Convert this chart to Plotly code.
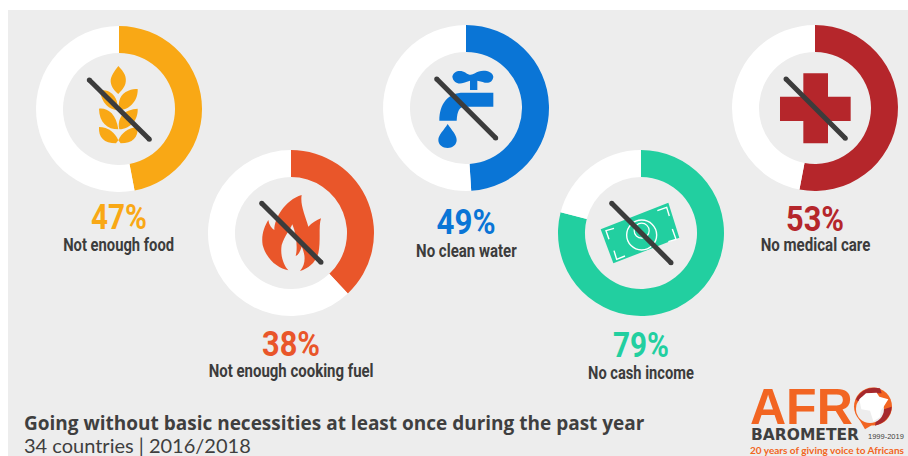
import json
import re
import plotly.graph_objects as go

W, H = 908, 456

# ---- data ----
categories = ["Not enough food", "Not enough cooking fuel", "No clean water", "No cash income", "No medical care"]
percent = [47, 38, 49, 79, 53]
colors = ["#F9A815", "#E9562A", "#0A75D6", "#22CFA0", "#B5262B"]
centers_x = [119, 291, 466, 641, 815]
centers_y = [109, 233, 108, 233, 108]
pct_y = [217, 344, 222, 345, 219]
lab_y = [244, 370, 250, 372, 245]
pct_widths = [56, 58, 59, 56, 58]
label_widths = [111, 165, 101, 106, 110]
OUTER_R = 83
HOLE = 0.675
GREY = "#EDEDED"
DARK = "#3C3C3C"


def fx(px):
    return px / W


def fy(py):
    return 1 - py / H


def pth(ox, oy, s, scale=3.0):
    """Turn a path written in zoom coordinates into paper coordinates."""
    out, is_x = [], True
    for tok in re.findall(r"[A-Za-z]|-?\d+\.?\d*", s):
        if tok.isalpha():
            out.append(tok)
            is_x = True
        elif is_x:
            out.append(f"{fx(ox + float(tok) / scale):.5f}")
            is_x = False
        else:
            out.append(f"{fy(oy + float(tok) / scale):.5f}")
            is_x = True
    return " ".join(out)


shapes = []


def fill(ox, oy, s, color):
    shapes.append(dict(type="path", xref="paper", yref="paper", path=pth(ox, oy, s),
                       fillcolor=color, line=dict(width=0), layer="above"))


def stroke(ox, oy, s, color, w):
    shapes.append(dict(type="path", xref="paper", yref="paper", path=pth(ox, oy, s),
                       line=dict(color=color, width=w), layer="above"))


def circle(cx, cy, r, fc=None, lc=None, w=0):
    shapes.append(dict(type="circle", xref="paper", yref="paper",
                       x0=fx(cx - r), x1=fx(cx + r), y0=fy(cy + r), y1=fy(cy - r),
                       fillcolor=fc if fc else "rgba(0,0,0,0)",
                       line=dict(color=lc if lc else "rgba(0,0,0,0)", width=w), layer="above"))


# grey panel
shapes.append(dict(type="rect", xref="paper", yref="paper", x0=fx(8), x1=1, y0=0, y1=fy(10),
                   fillcolor=GREY, line=dict(width=0), layer="below"))

# wheat
c = colors[0]
for s in [
    "M145 18 C162 35 172 52 166 72 C160 88 150 96 145 102 C135 94 124 82 122 65 C121 48 135 32 145 18 Z",
    "M203 87 C205 118 182 150 148 150 C142 125 152 100 175 92 C185 88 195 87 203 87 Z",
    "M90 92 C112 86 132 100 140 122 C143 135 144 142 144 150 C118 150 94 128 90 92 Z",
    "M203 146 C205 178 182 207 148 208 C142 185 152 160 175 152 C185 148 195 146 203 146 Z",
    "M87 146 C112 143 138 160 145 208 C112 208 88 188 87 146 Z",
    "M203 201 C205 232 188 250 152 250 L145 241 C155 218 175 203 203 201 Z",
    "M87 201 C115 201 135 218 145 241 L138 250 C102 250 85 232 87 201 Z",
]:
    fill(70, 60, s, c)

# flame
fill(245, 185, "M170 30 C165 60 180 90 190 125 C200 115 215 105 228 100 C220 125 228 170 220 205 "
               "C210 235 190 250 165 258 C185 235 180 205 170 185 C165 200 160 210 152 213 "
               "C158 190 155 150 142 118 C135 135 120 150 110 180 C105 210 115 240 130 256 "
               "C100 250 65 225 53 180 C48 150 58 125 70 105 C72 120 80 130 88 135 "
               "C88 100 120 45 170 30 Z", colors[1])

# tap
c = colors[2]
fill(420, 60, "M97 50 C100 32 122 28 137 38 C147 46 155 46 165 40 C180 28 217 30 220 50 "
              "C218 68 203 72 188 66 L172 62 L172 90 L150 90 L150 62 L132 68 C115 74 100 68 97 50 Z", c)
fill(420, 60, "M220 98 L220 140 L135 140 C118 140 112 152 110 182 L58 182 C58 130 85 98 130 98 Z", c)
fill(420, 60, "M83 192 C95 210 110 225 110 240 C110 255 97 264 83 264 C68 264 55 255 55 240 "
              "C55 225 72 210 83 192 Z", c)

# banknote
fill(590, 190, "M32 118 L235 38 L268 143 L70 220 Z", colors[3])
for s in ["M72 115 L48 122 L57 148", "M202 62 L230 52 L238 78",
          "M247 117 L258 148 L235 155", "M72 182 L80 208 L105 198"]:
    stroke(590, 190, s, "white", 1.4)
circle(590 + 155 / 3, 190 + 135 / 3, 15, None, "white", 1.4)
circle(590 + 155 / 3, 190 + 122 / 3, 7.5, None, "white", 1.2)

# cross
fill(770, 60, "M100 40 L174 40 L174 110 L242 110 L242 183 L174 183 L174 250 L100 250 L100 183 "
              "L30 183 L30 110 L100 110 Z", colors[4])

# slashes
for x0, y0, x1, y1 in [(89.3, 80, 149.3, 139.3), (261.7, 203.3, 321, 262.3), (436.7, 79, 495.7, 138),
                       (611.7, 203.3, 671, 262.7), (786, 79, 845.3, 138.3)]:
    stroke(0, 0, f"M{x0 * 3:.1f} {y0 * 3:.1f} L{x1 * 3:.1f} {y1 * 3:.1f}", DARK, 5)
    circle(x0, y0, 2.5, DARK)
    circle(x1, y1, 2.5, DARK)

# logo mark
LOGO = "#F26522"
LOGO_RED = "#A6282C"
fill(700, 360, "M470 165 L495 208 L525 190 Z", LOGO)
circle(873, 406.5, 19, LOGO)
fill(700, 360, "M468 118 C480 90 510 78 540 85 L545 100 L500 100 L475 125 Z", LOGO_RED)
fill(700, 360, "M575 140 C575 165 555 190 525 197 L530 170 L545 150 Z", LOGO_RED)
circle(870, 409, 14, GREY)
fill(700, 360, "M478 118 L498 100 L530 98 L538 110 L565 118 L550 142 L542 152 L540 172 L520 184 "
               "L510 152 L484 148 Z", "white")

# ---- figure ----
fig = go.Figure()
for name, v, col, cx, cy in zip(categories, percent, colors, centers_x, centers_y):
    fig.add_trace(go.Pie(
        values=[v, 100 - v], labels=[name, "Other"], sort=False, direction="clockwise", rotation=0,
        hole=HOLE, textinfo="none", hoverinfo="label+percent", showlegend=False,
        marker=dict(colors=[col, "white"], line=dict(width=0)),
        domain=dict(x=[fx(cx - OUTER_R), fx(cx + OUTER_R)], y=[fy(cy + OUTER_R), fy(cy - OUTER_R)]),
    ))


def note(px, py, text, size, color, family, anchor="center", **kw):
    return dict(x=fx(px), y=fy(py), xref="paper", yref="paper", text=text, showarrow=False,
                xanchor=anchor, yanchor="middle", align=anchor,
                font=dict(size=size, color=color, family=family, **kw))


CONDENSE = "Roboto"
anns = []
targets = {}
for name, v, col, cx, py, ly, pw, lw in zip(categories, percent, colors, centers_x, pct_y, lab_y,
                                            pct_widths, label_widths):
    anns.append(note(cx, py, f"<b>{v}%</b>", 35, col, CONDENSE))
    anns.append(note(cx, ly, f"<b>{name}</b>", 18, DARK, CONDENSE))
    targets[f"{v}%"] = pw
    targets[name] = lw
anns.append(note(22, 423, "<b>Going without basic necessities at least once during the past year</b>", 19,
                 "#3F3F3F", "Open Sans", "left"))
anns.append(note(22, 445, "34 countries | 2016/2018", 20, "#3F3F3F", "Lato", "left"))
anns.append(note(748, 407, "<b>AFR</b>", 50, LOGO, "Liberation Sans", "left"))
anns.append(note(749, 435, "<b>BAROMETER</b>", 15.5, "#3F3F3F", "DejaVu Sans", "left"))
anns.append(note(866, 436, "1999-2019", 7.5, "#3F3F3F", "Liberation Sans", "left"))
anns.append(note(748, 450, "<b>20 years of giving voice to Africans</b>", 10, LOGO, "Lato", "left"))

fig.update_layout(width=W, height=H, margin=dict(l=0, r=0, t=0, b=0), paper_bgcolor="white",
                  shapes=shapes, annotations=anns)

# The reference labels use a condensed face; none is installed, so Roboto is narrowed to the same widths.
squeeze = """
document.body.style.margin = '0';
var gd = document.getElementById('{plot_id}');
var targets = %s;
function squeeze() {
  gd.querySelectorAll('text.annotation-text').forEach(function (el) {
    var w = targets[el.textContent];
    if (!w) { return; }
    el.removeAttribute('transform');
    var b = el.getBBox();
    var cx = b.x + b.width / 2;
    var k = w / b.width;
    el.setAttribute('transform', 'translate(' + cx + ',0) scale(' + k + ',1) translate(' + (-cx) + ',0)');
  });
}
squeeze();
setTimeout(squeeze, 50);
gd.on('plotly_afterplot', squeeze);
""" % json.dumps(targets)
fig.write_html("out.html", post_script=squeeze, config={"displayModeBar": False})
